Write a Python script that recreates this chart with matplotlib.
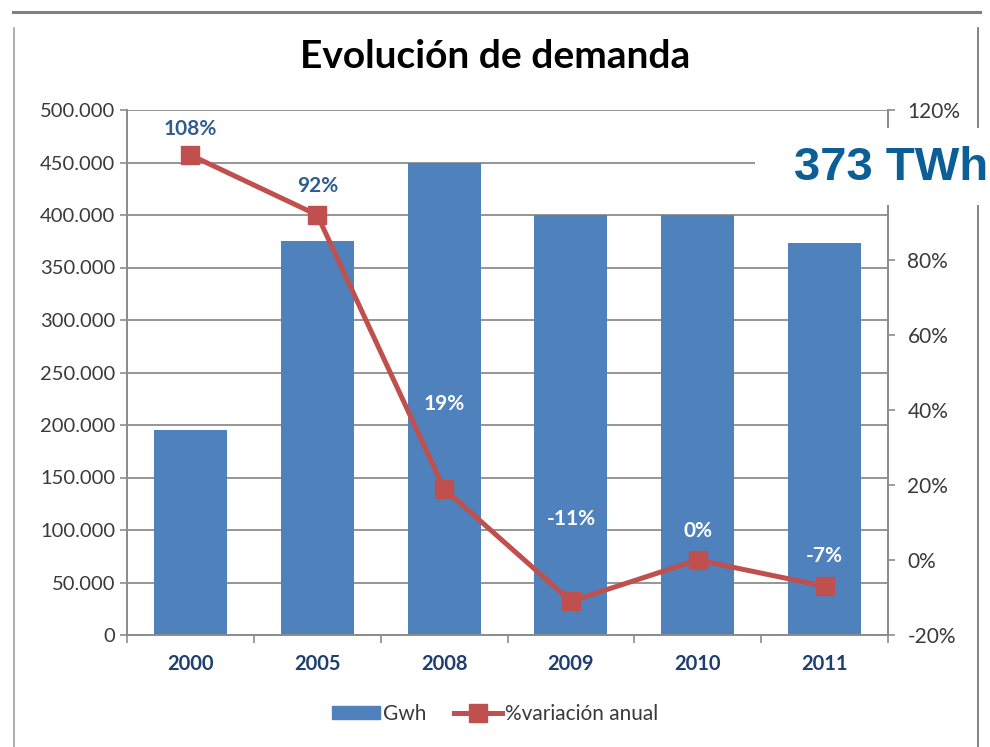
import matplotlib

matplotlib.use("Agg")

import matplotlib.pyplot as plt
from matplotlib.patches import Rectangle
from matplotlib.lines import Line2D
from matplotlib.ticker import FuncFormatter, FixedLocator

# Chart data.
YEARS = ["2000", "2005", "2008", "2009", "2010", "2011"]
GWH = [195000, 375000, 450000, 400000, 400000, 373000]
VARIATION_PCT = [108, 92, 19, -11, 0, -7]
HEADLINE = "373 TWh"

# Styling for the percentage labels (colour and offset above the marker, in points).
LABEL_COLORS = ["#2F5D8E", "#2F5D8E", "white", "white", "white", "white"]
LABEL_OFFSETS = [19, 21, 61, 59, 21, 22]

BAR_COLOR = "#4F81BD"
LINE_COLOR = "#C0504D"
GRID_COLOR = "#8C8C8C"
TEXT_COLOR = "#3A3A3A"
YEAR_COLOR = "#1F3F6E"

plt.rcParams["font.family"] = ["Lato", "DejaVu Sans"]

W, H = 990, 747
fig = plt.figure(figsize=(W / 100, H / 100), dpi=100)
ax = fig.add_axes([127 / W, 1 - 635 / H, 761 / W, 525 / H])
ax2 = ax.twinx()

x = list(range(len(YEARS)))
ax.bar(x, GWH, width=0.575, color=BAR_COLOR, zorder=2, label="Gwh")
ax.set_xlim(-0.5, len(YEARS) - 0.5)
ax.set_ylim(0, 500000)
ax.set_yticks(range(0, 500001, 50000))
ax.yaxis.set_major_formatter(
    FuncFormatter(lambda v, _: f"{int(v):,}".replace(",", "."))
)
ax.set_axisbelow(True)
ax.grid(axis="y", color=GRID_COLOR, lw=1.3, zorder=0)
ax.tick_params(axis="y", length=5, width=1.2, color=GRID_COLOR, pad=3.5,
               labelsize=14.5, labelcolor=TEXT_COLOR)

ax.set_xticks(x)
ax.set_xticklabels(YEARS, fontweight="bold", color=YEAR_COLOR, fontsize=14.5)
ax.xaxis.set_minor_locator(FixedLocator([i - 0.5 for i in range(len(YEARS) + 1)]))
ax.tick_params(axis="x", which="major", length=0, pad=14)
ax.tick_params(axis="x", which="minor", length=6, width=1.2, color=GRID_COLOR)

ax2.plot(x, VARIATION_PCT, color=LINE_COLOR, lw=3.6, marker="s", ms=13,
         mfc=LINE_COLOR, mec=LINE_COLOR, zorder=3, label="%variación anual")
ax2.set_ylim(-20, 120)
ax2.set_yticks(range(-20, 121, 20))
# the 100% label sits under the headline box in the reference, so it stays blank
ax2.yaxis.set_major_formatter(
    FuncFormatter(lambda v, _: "" if int(v) == 100 else f"{int(v)}%")
)
ax2.tick_params(axis="y", length=5, width=1.2, color=GRID_COLOR, pad=9,
                labelsize=15, labelcolor=TEXT_COLOR)

for a in (ax, ax2):
    a.spines["top"].set_visible(False)
    for side in ("left", "right", "bottom"):
        a.spines[side].set_color(GRID_COLOR)
        a.spines[side].set_linewidth(1.3)

for xi, val, col, off in zip(x, VARIATION_PCT, LABEL_COLORS, LABEL_OFFSETS):
    ax2.annotate(f"{val}%", (xi, val), xytext=(0, off), textcoords="offset points",
                 ha="center", va="center", fontsize=15, fontweight="bold",
                 color=col, zorder=5)

fig.text(0.5, 1 - 57 / H, "Evolución de demanda", ha="center", va="center",
         fontsize=28, fontweight="bold", color="black")

handles = [
    Rectangle((0, 0), 1, 1, color=BAR_COLOR),
    Line2D([], [], color=LINE_COLOR, lw=3.6, marker="s", ms=13, mfc=LINE_COLOR),
]
fig.legend(handles, ["Gwh", "%variación anual"], loc="center",
           bbox_to_anchor=(0.5, 1 - 714 / H), ncol=2, frameon=False,
           fontsize=15, handlelength=2.3, handleheight=0.6, columnspacing=1.3,
           handletextpad=0.15, labelcolor=TEXT_COLOR)

# outer frame of the slide picture
fig.add_artist(Line2D([13 / W, 980 / W], [1 - 12 / H, 1 - 12 / H],
                      color="#808080", lw=2.2))
fig.add_artist(Line2D([14 / W, 14 / W], [1 - 28 / H, 0], color="#A0A0A0", lw=1.2))
fig.add_artist(Line2D([978 / W, 978 / W], [1 - 28 / H, 0], color="#707070", lw=1.2))

# white box with the headline figure
fig.add_artist(Rectangle((755 / W, 1 - 205 / H), 235 / W, 77 / H,
                         transform=fig.transFigure, facecolor="white",
                         edgecolor="none", zorder=10))
fig.text(988 / W, 1 - 168 / H, HEADLINE, ha="right", va="center",
         fontsize=34, fontweight="bold", color="#0B5E96",
         family=["Liberation Sans", "DejaVu Sans"], zorder=11)

fig.savefig("out.png", dpi=100)
